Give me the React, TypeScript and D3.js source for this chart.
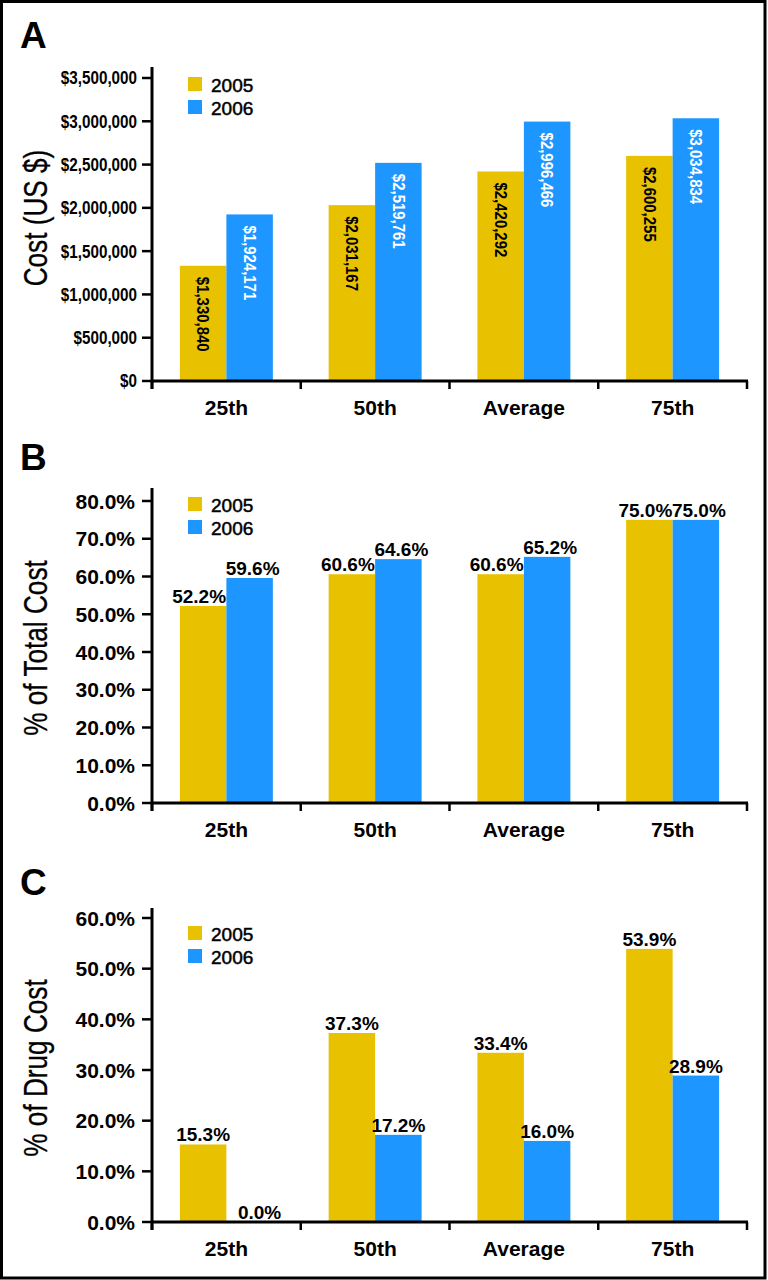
import React from "react";
import * as d3 from "d3";

const categories = ["25th", "50th", "Average", "75th"];
const years = ["2005", "2006"];

const costA2005 = [1330840, 2031167, 2420292, 2600255];
const costA2006 = [1924171, 2519761, 2996466, 3034834];
const costTicks = [0, 500000, 1000000, 1500000, 2000000, 2500000, 3000000, 3500000];

const totalB2005 = [52.2, 60.6, 60.6, 75.0];
const totalB2006 = [59.6, 64.6, 65.2, 75.0];
const totalTicks = [0, 10, 20, 30, 40, 50, 60, 70, 80];

const drugC2005 = [15.3, 37.3, 33.4, 53.9];
const drugC2006 = [0.0, 17.2, 16.0, 28.9];
const drugTicks = [0, 10, 20, 30, 40, 50, 60];

const GOLD = "#E8C100";
const BLUE = "#1E96FF";
const FONT = "'Liberation Sans', Arial, Helvetica, sans-serif";

const X0 = 152;
const X1 = 747;

type PanelProps = {
  letter: string;
  letterY: number;
  title: string;
  titleY: number;
  v2005: number[];
  v2006: number[];
  ticks: number[];
  domainMax: number;
  yZero: number;
  yMaxPx: number;
  axisTop: number;
  legendY: number;
  kind: "cost" | "pct";
};

const fmtCost = (v: number) => "$" + d3.format(",")(v);
const fmtPct = (v: number) => d3.format(".1f")(v) + "%";

function Panel(p: PanelProps) {
  const x = d3.scaleBand<string>().domain(categories).range([X0, X1]).paddingInner(0.375).paddingOuter(0.1875);
  const xs = d3.scaleBand<string>().domain(years).range([0, x.bandwidth()]);
  const y = d3.scaleLinear().domain([0, p.domainMax]).range([p.yZero, p.yMaxPx]);
  const step = x.step();
  const boundaries = d3.range(categories.length + 1).map((i) => X0 + i * step);
  const series = [
    { key: "2005", vals: p.v2005, color: GOLD, text: "#000" },
    { key: "2006", vals: p.v2006, color: BLUE, text: "#fff" },
  ];
  return (
    <g>
      <text x={20} y={p.letterY} fontFamily={FONT} fontWeight="bold" fontSize={37}>{p.letter}</text>
      <text
        transform={`translate(47, ${p.titleY}) rotate(-90) scale(0.77, 1)`}
        textAnchor="middle"
        fontFamily={FONT}
        fontSize={34}
        stroke="#000"
        strokeWidth={0.3}
      >{p.title}</text>
      {series.map((s) =>
        s.vals.map((v, i) => {
          const bx = (x(categories[i]) as number) + (xs(s.key) as number);
          const by = y(v);
          return (
            <rect key={s.key + i} x={bx} y={by} width={xs.bandwidth()} height={p.yZero - by} fill={s.color} />
          );
        })
      )}
      {series.map((s, si) =>
        s.vals.map((v, i) => {
          const cx = (x(categories[i]) as number) + (xs(s.key) as number) + xs.bandwidth() / 2;
          const by = y(v);
          if (p.kind === "cost") {
            return (
              <text
                key={"l" + s.key + i}
                transform={`translate(${cx}, ${by + 11}) rotate(90) scale(0.88, 1)`}
                textAnchor="start"
                dominantBaseline="central"
                fontFamily={FONT}
                fontWeight="bold"
                fontSize={17}
                fill={s.text}
              >{fmtCost(v)}</text>
            );
          }
          const dx = p.letter === "B" ? (si === 0 ? -4 : 3) : (v === 0 ? 10 : 0);
          return (
            <text
              key={"l" + s.key + i}
              x={cx + dx}
              y={by - 3}
              textAnchor="middle"
              fontFamily={FONT}
              fontWeight="bold"
              fontSize={19}
              fill="#000"
            >{fmtPct(v)}</text>
          );
        })
      )}
      <line x1={X0} x2={X0} y1={p.axisTop} y2={p.yZero + 8} stroke="#000" strokeWidth={3} />
      {p.ticks.map((t) => (
        <g key={"t" + t}>
          <line x1={X0 - 10} x2={X0} y1={y(t)} y2={y(t)} stroke="#000" strokeWidth={2.5} />
          {p.kind === "cost" ? (
            <text
              transform={`translate(137, ${y(t)}) scale(0.87, 1)`}
              textAnchor="end"
              dominantBaseline="central"
              fontFamily={FONT}
              fontWeight="bold"
              fontSize={17.5}
            >{fmtCost(t)}</text>
          ) : (
            <text
              x={135}
              y={y(t)}
              textAnchor="end"
              dominantBaseline="central"
              fontFamily={FONT}
              fontWeight="bold"
              fontSize={21}
            >{fmtPct(t)}</text>
          )}
        </g>
      ))}
      <line x1={X0} x2={X1 + 1} y1={p.yZero} y2={p.yZero} stroke="#000" strokeWidth={3} />
      {boundaries.map((b, i) => (
        <line key={"b" + i} x1={b} x2={b} y1={p.yZero} y2={p.yZero + 8} stroke="#000" strokeWidth={2.5} />
      ))}
      {categories.map((c) => (
        <text
          key={"c" + c}
          x={(x(c) as number) + x.bandwidth() / 2}
          y={p.yZero + 34}
          textAnchor="middle"
          fontFamily={FONT}
          fontWeight="bold"
          fontSize={21}
        >{c}</text>
      ))}
      {series.map((s, i) => (
        <g key={"lg" + s.key}>
          <rect x={188} y={p.legendY + i * 23} width={14} height={14} fill={s.color} />
          <text
            x={211}
            y={p.legendY + i * 23 + 15}
            fontFamily={FONT}
            fontSize={19}
            stroke="#000"
            strokeWidth={0.5}
          >{s.key}</text>
        </g>
      ))}
    </g>
  );
}

export default function App() {
  return (
    <svg
      width={768}
      height={1280}
      viewBox="0 0 768 1280"
      style={{ position: "absolute", left: 0, top: 0, background: "#fff" }}
    >
      <rect x={0} y={0} width={768} height={1280} fill="#fff" />
      <Panel
        letter="A"
        letterY={48}
        title="Cost (US $)"
        titleY={218}
        v2005={costA2005}
        v2006={costA2006}
        ticks={costTicks}
        domainMax={3500000}
        yZero={381}
        yMaxPx={78}
        axisTop={67}
        legendY={77}
        kind="cost"
      />
      <Panel
        letter="B"
        letterY={470}
        title="% of Total Cost"
        titleY={648}
        v2005={totalB2005}
        v2006={totalB2006}
        ticks={totalTicks}
        domainMax={80}
        yZero={803}
        yMaxPx={501}
        axisTop={488}
        legendY={497}
        kind="pct"
      />
      <Panel
        letter="C"
        letterY={895}
        title="% of Drug Cost"
        titleY={1068}
        v2005={drugC2005}
        v2006={drugC2006}
        ticks={drugTicks}
        domainMax={60}
        yZero={1222}
        yMaxPx={918}
        axisTop={908}
        legendY={926}
        kind="pct"
      />
      <rect x={1.5} y={1.5} width={763.5} height={1276.5} fill="none" stroke="#000" strokeWidth={3} />
    </svg>
  );
}
